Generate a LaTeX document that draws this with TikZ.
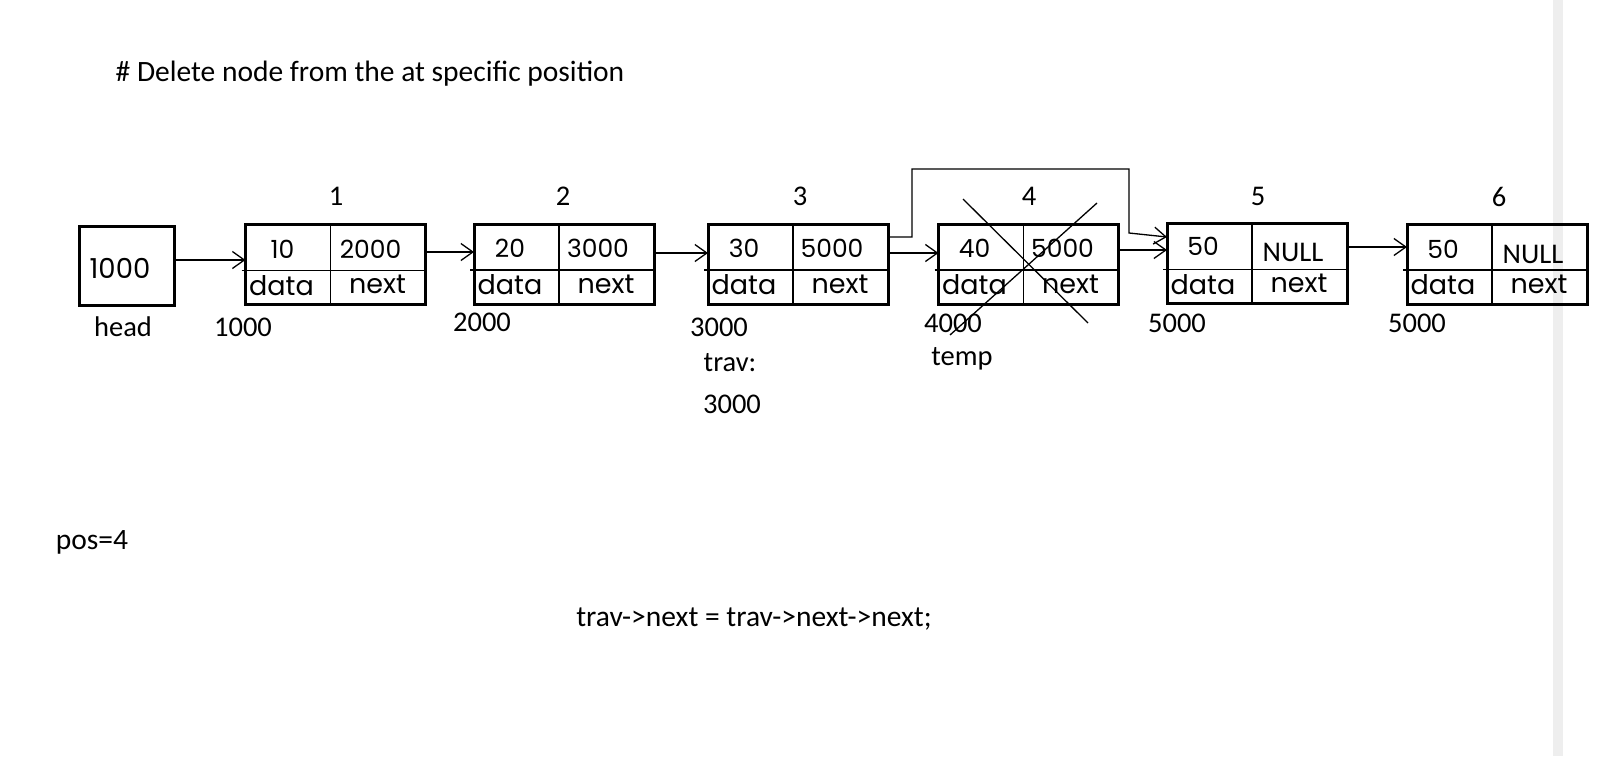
\documentclass[tikz,border=0pt]{standalone}
\usepackage{fontspec}
\setmainfont{Carlito}
\newfontfamily\handfont{Poppins}
\usetikzlibrary{arrows.meta,calc}
\definecolor{bargray}{HTML}{EEEEEE}
\begin{document}
\begin{tikzpicture}[x=1pt,y=-1pt,
  lnode/.style={draw,line width=3pt,minimum width=180pt,minimum height=80pt,inner sep=0pt,outer sep=0pt},
  headbox/.style={draw,line width=3pt,minimum width=95pt,minimum height=79pt,inner sep=0pt,outer sep=0pt},
  divline/.style={line width=1.3pt},
  arr/.style={line width=1.3pt,-{Straight Barb[length=12pt,width=17pt,line width=1.3pt]}},
  lbl/.style={inner sep=0pt,font=\fontsize{28.5}{32}\selectfont},
  txt/.style={inner sep=0pt,font=\fontsize{29.5}{34}\selectfont},
  val/.style={inner sep=0pt,font=\handfont\fontsize{25}{28}\selectfont},
  fname/.style={inner sep=0pt,font=\handfont\fontsize{27}{30}\selectfont}
]
\fill[white] (0,0) rectangle (1618,756);
\useasboundingbox (0,0) rectangle (1618,756);
\fill[bargray] (1553,0) rectangle (1563,756);

% title and notes
\node[txt] (title) at (370,74) {\# Delete node from the at specific position};
\node[txt] (pos) at (92,542) {pos=4};
\node[txt] (code) at (754,619) {trav->next = trav->next->next;};

% head
\node[headbox] (head) at (126.5,265.5) {};
\node[val,font=\handfont\fontsize{27.5}{30}\selectfont] (headval) at (120,268) {1000};
\node[lbl] (headlbl) at (123,327) {head};

% list nodes
\node[lnode] (n1) at (335.5,264.5) {};
\node[lnode] (n2) at (564,264) {};
\node[lnode] (n3) at (798,264) {};
\node[lnode] (n4) at (1028.5,264) {};
\node[lnode] (n5) at (1257,263.5) {};
\node[lnode] (n6) at (1497,264) {};

\foreach \n in {n1,n2,n3,n4,n5,n6}{
  \draw[divline] ($(\n.north west)+(85,0)$) -- ($(\n.north west)+(85,80)$);
  \draw[divline] ($(\n.north west)+(-4,46)$) -- ($(\n.north east)+(0,46)$);
  \node[fname] at ($(\n.north west)+(36,61)$) {data};
  \node[fname] at ($(\n.north west)+(132,60)$) {next};
}

% values
\node[val] (v1a) at ($(n1.north west)+(37,25)$) {10};
\node[val] (v1b) at ($(n1.north west)+(125,25)$) {2000};
\node[val] (v2a) at ($(n2.north west)+(36,24)$) {20};
\node[val] (v2b) at ($(n2.north west)+(124,24)$) {3000};
\node[val] (v3a) at ($(n3.north west)+(36,24)$) {30};
\node[val] (v3b) at ($(n3.north west)+(124,24)$) {5000};
\node[val] (v4a) at ($(n4.north west)+(36,24)$) {40};
\node[val] (v4b) at ($(n4.north west)+(124,24)$) {5000};
\node[val] (v5a) at ($(n5.north west)+(36,23)$) {50};
\node[lbl] (v5b) at ($(n5.north west)+(126,29)$) {NULL};
\node[val] (v6a) at ($(n6.north west)+(36,25)$) {50};
\node[lbl] (v6b) at ($(n6.north west)+(126,30)$) {NULL};

% index labels
\node[lbl] (i1) at (336,196) {1};
\node[lbl] (i2) at (563,196) {2};
\node[lbl] (i3) at (800,196) {3};
\node[lbl] (i4) at (1029,196) {4};
\node[lbl] (i5) at (1258,196) {5};
\node[lbl] (i6) at (1499,197) {6};

% address labels
\node[lbl] (a1) at (243,327) {1000};
\node[lbl] (a2) at (482,322) {2000};
\node[lbl] (a3) at (719,327) {3000};
\node[lbl] (trav) at (730,363) {trav:};
\node[lbl] (travv) at (732,404) {3000};
\node[lbl] (a4) at (953,323) {4000};
\node[lbl] (temp) at (962,359) {temp};
\node[lbl] (a5) at (1177,323) {5000};
\node[lbl] (a6) at (1417,323) {5000};

% connectors
\draw[arr] (head.east |- 0,260) -- (n1.west |- 0,260);
\draw[arr] (n1.east |- 0,252) -- (n2.west |- 0,252);
\draw[arr] (n2.east |- 0,253) -- (n3.west |- 0,253);
\draw[arr] (n3.east |- 0,253) -- (n4.west |- 0,253);
\draw[arr] (n4.east |- 0,250) -- (n5.west |- 0,250);
\draw[arr] (n5.east |- 0,247) -- (n6.west |- 0,247);
\draw[arr] (n3.east |- 0,237) -| (912,169) -| (1129,233) -- (n5.west |- 0,237);

% cross over deleted node
\draw[divline] (963,199) -- (1088,323);
\draw[divline] (1097,203) -- (950,335);
\end{tikzpicture}
\end{document}
